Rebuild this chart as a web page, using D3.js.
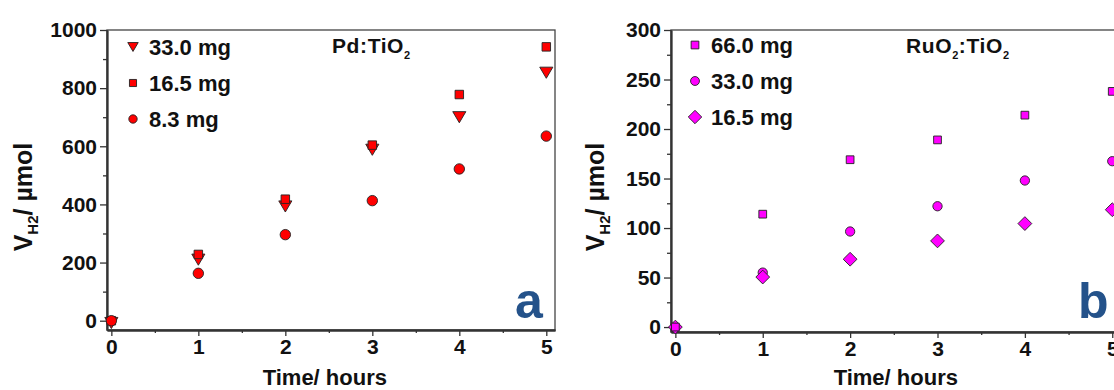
<!DOCTYPE html>
<html>
<head>
<meta charset="utf-8">
<script src="https://cdn.jsdelivr.net/npm/d3@7"></script>
<style>
  html, body { margin: 0; padding: 0; background: #fff; }
  svg { display: block; }
  text { font-family: "Liberation Sans", Arial, sans-serif; font-weight: bold; fill: #111; }
</style>
</head>
<body>
<svg id="fig" width="1114" height="390"></svg>
<script>
// Sampling times (hours)
const hours = [0, 1, 2, 3, 4, 5];

// Panel a: Pd:TiO2, hydrogen evolved (µmol) per catalyst mass
const pdLabels = ["33.0 mg", "16.5 mg", "8.3 mg"];
const pd33 = [-8, 210, 393, 588, 700, 853];
const pd165 = [0, 228, 418, 604, 778, 942];
const pd83 = [0, 163, 296, 413, 522, 635];

// Panel b: RuO2:TiO2, hydrogen evolved (µmol) per catalyst mass
const ruLabels = ["66.0 mg", "33.0 mg", "16.5 mg"];
const ru66 = [0, 114, 169, 189, 214, 238];
const ru33 = [0, 55, 96.5, 122, 148, 167.5];
const ru165 = [0, 50.5, 68.5, 87, 104.5, 118.5];

// Axis ticks
const xTicks = [0, 1, 2, 3, 4, 5];
const yTicksA = [0, 200, 400, 600, 800, 1000];
const yTicksB = [0, 50, 100, 150, 200, 250, 300];

const svg = d3.select("#fig");
svg.append("rect").attr("width", 1114).attr("height", 390).attr("fill", "#fff");

// downward triangle marker
const symTriDown = {
  draw(ctx, size) {
    const w = Math.sqrt(size) * 1.25, h = w * 0.85;
    ctx.moveTo(-w / 2, -h / 2);
    ctx.lineTo(w / 2, -h / 2);
    ctx.lineTo(0, h / 2);
    ctx.closePath();
  }
};

// square rotated by 45 degrees (equal width and height)
const symRhomb = {
  draw(ctx, size) {
    const r = Math.sqrt(size / 2);
    ctx.moveTo(0, -r);
    ctx.lineTo(r, 0);
    ctx.lineTo(0, r);
    ctx.lineTo(-r, 0);
    ctx.closePath();
  }
};

function drawPanel(cfg) {
  const g = svg.append("g");
  const x = d3.scaleLinear().domain([-0.05, 5.1]).range([cfg.left, cfg.right]);
  const y = d3.scaleLinear().domain(cfg.yDomain).range([cfg.bottom, cfg.top]);

  // frame (top and right sides)
  g.append("rect")
    .attr("x", cfg.left).attr("y", cfg.top)
    .attr("width", cfg.right - cfg.left).attr("height", cfg.bottom - cfg.top)
    .attr("fill", "none").attr("stroke", "#444").attr("stroke-width", 1.3);

  // x axis
  const xAxis = d3.axisBottom(x).tickValues(xTicks).tickFormat(d3.format("d"))
    .tickSizeInner(6).tickSizeOuter(0).tickPadding(3);
  const gx = g.append("g").attr("transform", `translate(0,${cfg.bottom})`).call(xAxis);
  const xMinor = d3.axisBottom(x).tickValues(d3.range(0.5, 5.1, 1)).tickFormat("")
    .tickSizeInner(3).tickSizeOuter(0);
  const gxm = g.append("g").attr("transform", `translate(0,${cfg.bottom})`).call(xMinor);

  // y axis
  const yAxis = d3.axisLeft(y).tickValues(cfg.yTicks).tickFormat(d3.format("d"))
    .tickSizeInner(7).tickSizeOuter(0).tickPadding(3);
  const gy = g.append("g").attr("transform", `translate(${cfg.left},0)`).call(yAxis);
  const yMinor = d3.axisLeft(y).tickValues(cfg.yMinor).tickFormat("")
    .tickSizeInner(4).tickSizeOuter(0);
  const gym = g.append("g").attr("transform", `translate(${cfg.left},0)`).call(yMinor);

  [gx, gxm, gy, gym].forEach(a => {
    a.select(".domain").attr("stroke", "#333").attr("stroke-width", 1.8);
    a.selectAll(".tick line").attr("stroke", "#333").attr("stroke-width", 1.3);
    a.selectAll(".tick text").attr("font-size", 21).attr("font-family", null)
      .attr("fill", "#111");
  });

  // axis titles
  g.append("text")
    .attr("x", x(2.5) + cfg.xTitleShift).attr("y", 385)
    .attr("text-anchor", "middle").attr("font-size", 22)
    .text("Time/ hours");

  const yt = g.append("text")
    .attr("transform", `translate(${cfg.yTitleX},197) rotate(-90)`)
    .attr("text-anchor", "middle").attr("font-size", 25);
  yt.append("tspan").text("V");
  yt.append("tspan").attr("font-size", 15).attr("dy", 6).text("H2");
  yt.append("tspan").attr("dy", -6).text("/ µmol");

  // panel title with subscripts
  const tt = g.append("text").attr("x", cfg.titleX).attr("y", 53)
    .attr("font-size", 21).attr("letter-spacing", 0.6);
  cfg.title.forEach(part => {
    if (part.sub) tt.append("tspan").attr("font-size", 11).attr("dy", 6).text(part.t);
    else tt.append("tspan").attr("dy", part.reset ? -6 : 0).text(part.t);
  });

  // panel letter
  g.append("text").attr("x", cfg.letterX).attr("y", 318)
    .attr("font-family", "Lato, 'Open Sans', sans-serif")
    .attr("font-size", 50).style("fill", "#24528a")
    .text(cfg.letter);

  // data series
  const clip = "clip-" + cfg.letter;
  svg.append("clipPath").attr("id", clip).append("rect")
    .attr("x", cfg.left - 10).attr("y", cfg.top - 10)
    .attr("width", cfg.right - cfg.left + 20).attr("height", cfg.bottom - cfg.top + 20);
  const pts = g.append("g").attr("clip-path", `url(#${clip})`);
  cfg.drawOrder.forEach(i => {
    const s = cfg.series[i];
    pts.selectAll(null).data(s.values).enter().append("path")
      .attr("d", d3.symbol().type(s.type).size(s.size)())
      .attr("transform", (d, k) => `translate(${x(hours[k])},${y(d)})`)
      .attr("fill", cfg.color).attr("stroke", "#222").attr("stroke-width", 0.9);
  });

  // legend
  cfg.series.forEach((s, i) => {
    const cy = cfg.legendY + i * 36;
    g.append("path")
      .attr("d", d3.symbol().type(s.type).size(s.legendSize)())
      .attr("transform", `translate(${cfg.legendX},${cy})`)
      .attr("fill", cfg.color).attr("stroke", "#222").attr("stroke-width", 0.9);
    g.append("text").attr("x", cfg.legendX + 16).attr("y", cy + 8)
      .attr("font-size", 22).text(s.label);
  });
}

drawPanel({
  left: 107, right: 555, top: 30, bottom: 330,
  yDomain: [-32, 1000], yTicks: yTicksA, yMinor: d3.range(100, 1000, 200),
  color: "#ff0000",
  series: [
    { label: pdLabels[0], values: pd33, type: symTriDown, size: 110, legendSize: 70 },
    { label: pdLabels[1], values: pd165, type: d3.symbolSquare, size: 72, legendSize: 50 },
    { label: pdLabels[2], values: pd83, type: d3.symbolCircle, size: 85, legendSize: 55 }
  ],
  drawOrder: [0, 1, 2],
  legendX: 133, legendY: 47,
  xTitleShift: -4, yTitleX: 32,
  titleX: 332,
  title: [{ t: "Pd:TiO" }, { t: "2", sub: true }],
  letter: "a", letterX: 515
});

drawPanel({
  left: 671, right: 1121, top: 30, bottom: 332,
  yDomain: [-5, 300], yTicks: yTicksB, yMinor: d3.range(25, 300, 50),
  color: "#ff00ff",
  series: [
    { label: ruLabels[0], values: ru66, type: d3.symbolSquare, size: 60, legendSize: 60 },
    { label: ruLabels[1], values: ru33, type: d3.symbolCircle, size: 68, legendSize: 62 },
    { label: ruLabels[2], values: ru165, type: symRhomb, size: 95, legendSize: 90 }
  ],
  drawOrder: [1, 2, 0],
  legendX: 695, legendY: 45,
  xTitleShift: 2, yTitleX: 604,
  titleX: 906,
  title: [{ t: "RuO" }, { t: "2", sub: true }, { t: ":TiO", reset: true }, { t: "2", sub: true }],
  letter: "b", letterX: 1078
});
</script>
</body>
</html>
